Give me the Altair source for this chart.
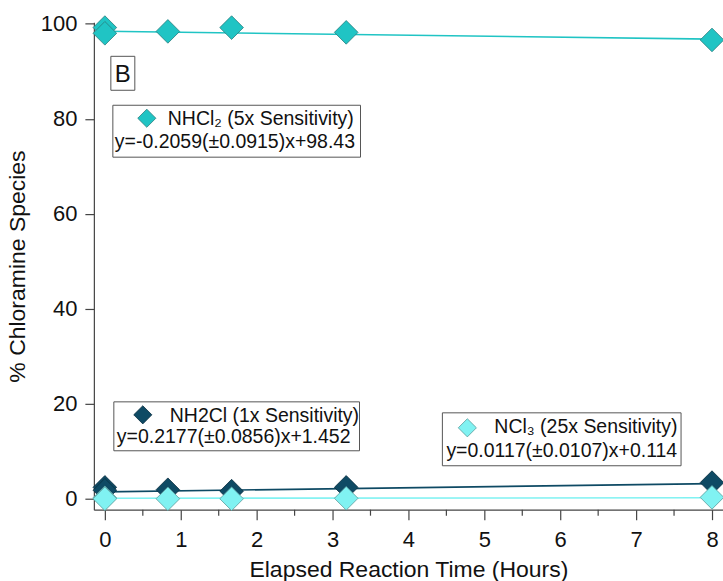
import altair as alt
import pandas as pd

# ---- data ----
time_h = [0, 0, 0.83, 1.67, 3.18, 8.0]
nhcl2 = [99.2, 98.0, 98.4, 99.2, 98.2, 96.6]
nh2cl = [2.4, 1.8, 1.9, 1.6, 2.4, 3.4]
ncl3 = [0.2, 0.0, 0.0, 0.0, 0.1, 0.3]

species = ["NH2Cl", "NCl3", "NHCl2"]
slopes = [0.2177, 0.0117, -0.2059]
intercepts = [1.452, 0.114, 98.43]
fit_x = [0, 8]

x_ticks = [0, 1, 2, 3, 4, 5, 6, 7, 8]
x_minor = [0.5, 1.5, 2.5, 3.5, 4.5, 5.5, 6.5, 7.5]
y_ticks = [0, 20, 40, 60, 80, 100]

fill_col = {"NHCl2": "#20c4c4", "NH2Cl": "#0e4a64", "NCl3": "#80f2f2"}
stroke_col = {"NHCl2": "#2a7d7d", "NH2Cl": "#0a2f40", "NCl3": "#5a9c9c"}
line_col = {"NHCl2": "#20c4c4", "NH2Cl": "#0e4a64", "NCl3": "#80f2f2"}

values = {"NHCl2": nhcl2, "NH2Cl": nh2cl, "NCl3": ncl3}

FONT = "Liberation Sans"
AX = "#444444"

xscale = alt.Scale(domain=[-0.145, 8.145], nice=False, zero=False)
yscale = alt.Scale(domain=[-2.3, 100.3], nice=False, zero=False)

xaxis = alt.Axis(
    values=x_ticks,
    title="Elapsed Reaction Time (Hours)",
    grid=False,
    tickSize=10,
    labelPadding=10,
    titleX=315,
    titleY=67,
    titleBaseline="alphabetic",
    titleAnchor="middle",
)
yaxis = alt.Axis(
    values=y_ticks,
    title="% Chloramine Species",
    grid=False,
    tickSize=9,
    labelPadding=8,
    titleX=-76,
    titleY=244,
    titleBaseline="middle",
    titleAngle=-90,
)

X = alt.X("t:Q", scale=xscale, axis=xaxis)
Y = alt.Y("v:Q", scale=yscale, axis=yaxis)

pts = pd.DataFrame(
    [{"t": t, "v": v, "s": s} for s in species for t, v in zip(time_h, values[s])]
)
fits = pd.DataFrame(
    [
        {"t": xx, "v": m * xx + b, "s": s}
        for s, m, b in zip(species, slopes, intercepts)
        for xx in fit_x
    ]
)

layers = []

# minor x ticks
minor = alt.Chart(pd.DataFrame({"t": x_minor})).mark_rule(
    color=AX, strokeWidth=1.2
).encode(
    x=X,
    y=alt.value(488),
    y2=alt.value(494),
)
layers.append(minor)

# fit lines
for s in species:
    layers.append(
        alt.Chart(fits[fits.s == s])
        .mark_line(color=line_col[s], strokeWidth=1.6)
        .encode(x=X, y=Y)
    )

# points
for s in species:
    layers.append(
        alt.Chart(pts[pts.s == s])
        .mark_point(
            shape="diamond",
            filled=True,
            size=560,
            fill=fill_col[s],
            stroke=stroke_col[s],
            strokeWidth=0.8,
            opacity=1,
        )
        .encode(x=X, y=Y)
    )

one = pd.DataFrame({"a": [0]})


def box(x1, x2, y1, y2):
    return alt.Chart(one).mark_rect(
        fill="white", stroke="#555555", strokeWidth=1
    ).encode(
        x=alt.value(x1), x2=alt.value(x2), y=alt.value(y1), y2=alt.value(y2)
    )


def txt(x, y, s, size=19.5, align="left"):
    return alt.Chart(one).mark_text(
        text=s, font=FONT, fontSize=size, color="#111111", align=align,
        baseline="alphabetic",
    ).encode(x=alt.value(x), y=alt.value(y))


def dia(x, y, s):
    return alt.Chart(one).mark_point(
        shape="diamond", filled=True, size=330, fill=fill_col[s],
        stroke=stroke_col[s], strokeWidth=0.8, opacity=1,
    ).encode(x=alt.value(x), y=alt.value(y))


# panel label
layers += [box(17, 41, 34, 68), txt(29, 60, "B", size=24, align="center")]

# NHCl2 label
layers += [
    box(19, 267, 83, 135),
    dia(53, 96, "NHCl2"),
    txt(74, 103, "NHCl\u2082 (5x Sensitivity)"),
    txt(21, 126, "y=-0.2059(\u00b10.0915)x+98.43"),
]

# NH2Cl label
layers += [
    box(20, 266, 380, 429),
    dia(49, 393, "NH2Cl"),
    txt(76, 400, "NH2Cl (1x Sensitivity)"),
    txt(23, 421, "y=0.2177(\u00b10.0856)x+1.452"),
]

# NCl3 label
layers += [
    box(349, 588, 391, 444),
    dia(374, 406, "NCl3"),
    txt(401, 411, "NCl\u2083 (25x Sensitivity)"),
    txt(353, 435, "y=0.0117(\u00b10.0107)x+0.114"),
]

chart = (
    alt.layer(*layers)
    .properties(
        width=630,
        height=488,
        autosize=alt.AutoSizeParams(type="none"),
        padding={"left": 94, "top": 22, "right": 0, "bottom": 71},
    )
    .configure_view(stroke=None)
    .configure_axis(
        domainColor=AX,
        tickColor=AX,
        domainWidth=1.2,
        tickWidth=1.2,
        labelFont=FONT,
        labelFontSize=22,
        labelColor="#111111",
        titleFont=FONT,
        titleFontSize=23,
        titleFontWeight="normal",
        titleColor="#111111",
    )
    .configure_axisX(labelBaseline="top")
)

chart.save("out.html", embed_options={"renderer": "svg", "actions": False})
